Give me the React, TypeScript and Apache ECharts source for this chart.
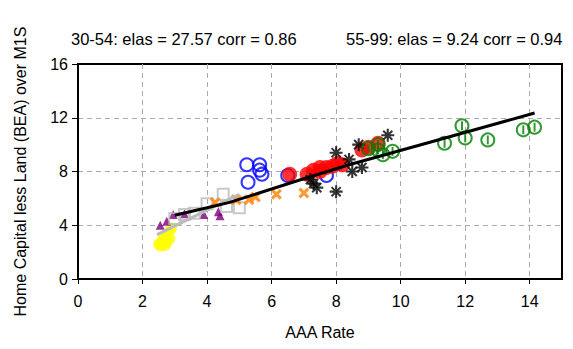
import React, { useEffect, useRef } from "react";
import * as echarts from "echarts";

const titleLeft = "30-54: elas = 27.57 corr = 0.86";
const titleRight = "55-99: elas = 9.24 corr = 0.94";
const xName = "AAA Rate";
const yName = "Home Capital less Land (BEA) over M1S";

const yellowPts = [[2.5, 2.6], [2.6, 2.8], [2.65, 3.1], [2.75, 2.7], [2.75, 3.3], [2.85, 3.6], [2.9, 3.8], [2.55, 2.45], [2.7, 2.5], [2.85, 3.0]];
const purplePts = [[2.55, 4.0], [2.75, 4.3], [2.95, 4.8], [3.3, 4.85], [3.9, 4.8], [4.35, 5.0], [4.4, 4.7]];
const grayPts = [[3.0, 4.5], [3.3, 4.8], [3.6, 4.9], [4.0, 5.6], [4.5, 6.3], [4.6, 5.4], [5.0, 5.3]];
const orangePts = [[4.25, 5.7], [4.9, 5.9], [5.3, 5.9], [5.5, 6.1], [6.15, 6.3], [7.0, 6.4]];
const bluePts = [[5.23, 8.5], [5.63, 8.5], [5.63, 8.1], [5.7, 7.8], [5.27, 7.2], [6.5, 7.7], [7.7, 7.7]];
const redPts = [[6.56, 7.8], [7.1, 7.8], [7.3, 8.1], [7.5, 8.3], [7.7, 8.3], [7.9, 8.4], [8.05, 8.6], [8.2, 8.5], [7.5, 8.0], [8.8, 9.6], [9.0, 9.8], [9.3, 10.1]];
const blackPts = [[7.2, 7.4], [7.3, 7.1], [7.4, 6.8], [8.0, 6.5], [8.0, 9.4], [8.4, 8.9], [8.5, 8.0], [8.8, 8.3], [8.7, 10.0], [9.6, 10.7]];
const greenPts = [[9.0, 9.7], [9.3, 10.0], [9.3, 9.6], [9.45, 9.25], [9.75, 9.5], [11.36, 10.1], [11.9, 11.4], [12.0, 10.5], [12.7, 10.35], [13.8, 11.1], [14.15, 11.3]];
const fit3054 = [[2.45, 3.3], [5.0, 6.3]];
const fit5599 = [[3.0, 4.75], [4.0, 5.3], [4.7, 5.7], [6.87, 7.37], [8.4, 8.5], [10.6, 9.97], [14.15, 12.35]];

const asterisk =
  "path://M-1.6,-10 L1.6,-10 L1.6,10 L-1.6,10 Z M-10,-1.6 L10,-1.6 L10,1.6 L-10,1.6 Z " +
  "M-5.9,-8.1 L8.1,5.9 L5.9,8.1 L-8.1,-5.9 Z M-8.1,5.9 L5.9,-8.1 L8.1,-5.9 L-5.9,8.1 Z";
const boldX =
  "path://M-5.2,-8.8 L8.8,5.2 L5.2,8.8 L-8.8,-5.2 Z M-8.8,5.2 L5.2,-8.8 L8.8,-5.2 L-5.2,8.8 Z";

export default function App() {
  const ref = useRef<HTMLDivElement>(null);
  useEffect(() => {
    document.body.style.margin = "0";
    const chart = echarts.init(ref.current!, undefined, { renderer: "svg" });
    const font = "Liberation Sans";
    const tstyle = { fontSize: 16.5, fontWeight: "normal", color: "#000", fontFamily: font };
    chart.setOption({
      animation: false,
      textStyle: { fontFamily: font },
      title: [
        { text: titleLeft, left: 66, top: 25, textStyle: tstyle },
        { text: titleRight, left: 341, top: 25, textStyle: tstyle },
      ],
      grid: { left: 78, right: 11, top: 64, bottom: 70, show: true, borderColor: "#000", borderWidth: 2, backgroundColor: "transparent" },
      xAxis: {
        type: "value",
        min: 0,
        max: 15,
        interval: 2,
        name: xName,
        nameLocation: "middle",
        nameGap: 45,
        nameTextStyle: { fontSize: 16, color: "#000", fontFamily: font },
        axisLine: { show: true, lineStyle: { color: "#000", width: 2 } },
        axisTick: { show: true, length: 5, lineStyle: { color: "#000", width: 1 } },
        axisLabel: { fontSize: 16, color: "#000", margin: 14, fontFamily: font, showMaxLabel: false },
        splitLine: { show: true, showMinLine: false, showMaxLine: false, lineStyle: { color: "#aaa", type: [5, 4], width: 1 } },
      },
      yAxis: {
        type: "value",
        min: 0,
        max: 16,
        interval: 4,
        name: yName,
        nameLocation: "middle",
        nameGap: 50,
        nameTextStyle: { fontSize: 16, color: "#000", fontFamily: font },
        axisLine: { show: true, lineStyle: { color: "#000", width: 2 } },
        axisTick: { show: true, length: 6, lineStyle: { color: "#000", width: 1 } },
        axisLabel: { fontSize: 16, color: "#000", margin: 10, fontFamily: font },
        splitLine: { show: true, showMinLine: false, showMaxLine: false, lineStyle: { color: "#aaa", type: [5, 4], width: 1 } },
      },
      series: [
        { type: "scatter", data: yellowPts, symbol: "circle", symbolSize: 11, itemStyle: { color: "#ffff00" } },
        { type: "scatter", data: purplePts, symbol: "triangle", symbolSize: 9, itemStyle: { color: "#800080" } },
        { type: "scatter", data: grayPts, symbol: "rect", symbolSize: 11, itemStyle: { color: "transparent", borderColor: "#bbbbbb", borderWidth: 2 } },
        { type: "scatter", data: orangePts, symbol: boldX, symbolSize: 11, itemStyle: { color: "#ff7f00" } },
        { type: "scatter", data: bluePts, symbol: "circle", symbolSize: 13, itemStyle: { color: "transparent", borderColor: "#0000ff", borderWidth: 2 } },
        { type: "scatter", data: redPts, symbol: "circle", symbolSize: 15, itemStyle: { color: "#ff0000" } },
        { type: "scatter", data: blackPts, symbol: asterisk, symbolSize: 13, itemStyle: { color: "#000" } },
        { type: "scatter", data: greenPts, symbol: "circle", symbolSize: 13, itemStyle: { color: "transparent", borderColor: "#008000", borderWidth: 2 } },
        { type: "scatter", data: greenPts, symbol: "rect", symbolSize: [2, 9], itemStyle: { color: "#008000" } },
        { type: "line", data: fit3054, symbol: "none", lineStyle: { color: "#bbbbbb", width: 3 } },
        { type: "line", data: fit5599, symbol: "none", lineStyle: { color: "#000", width: 3 } },
      ],
    });
    return () => chart.dispose();
  }, []);
  return <div ref={ref} style={{ width: 573, height: 349 }} />;
}
